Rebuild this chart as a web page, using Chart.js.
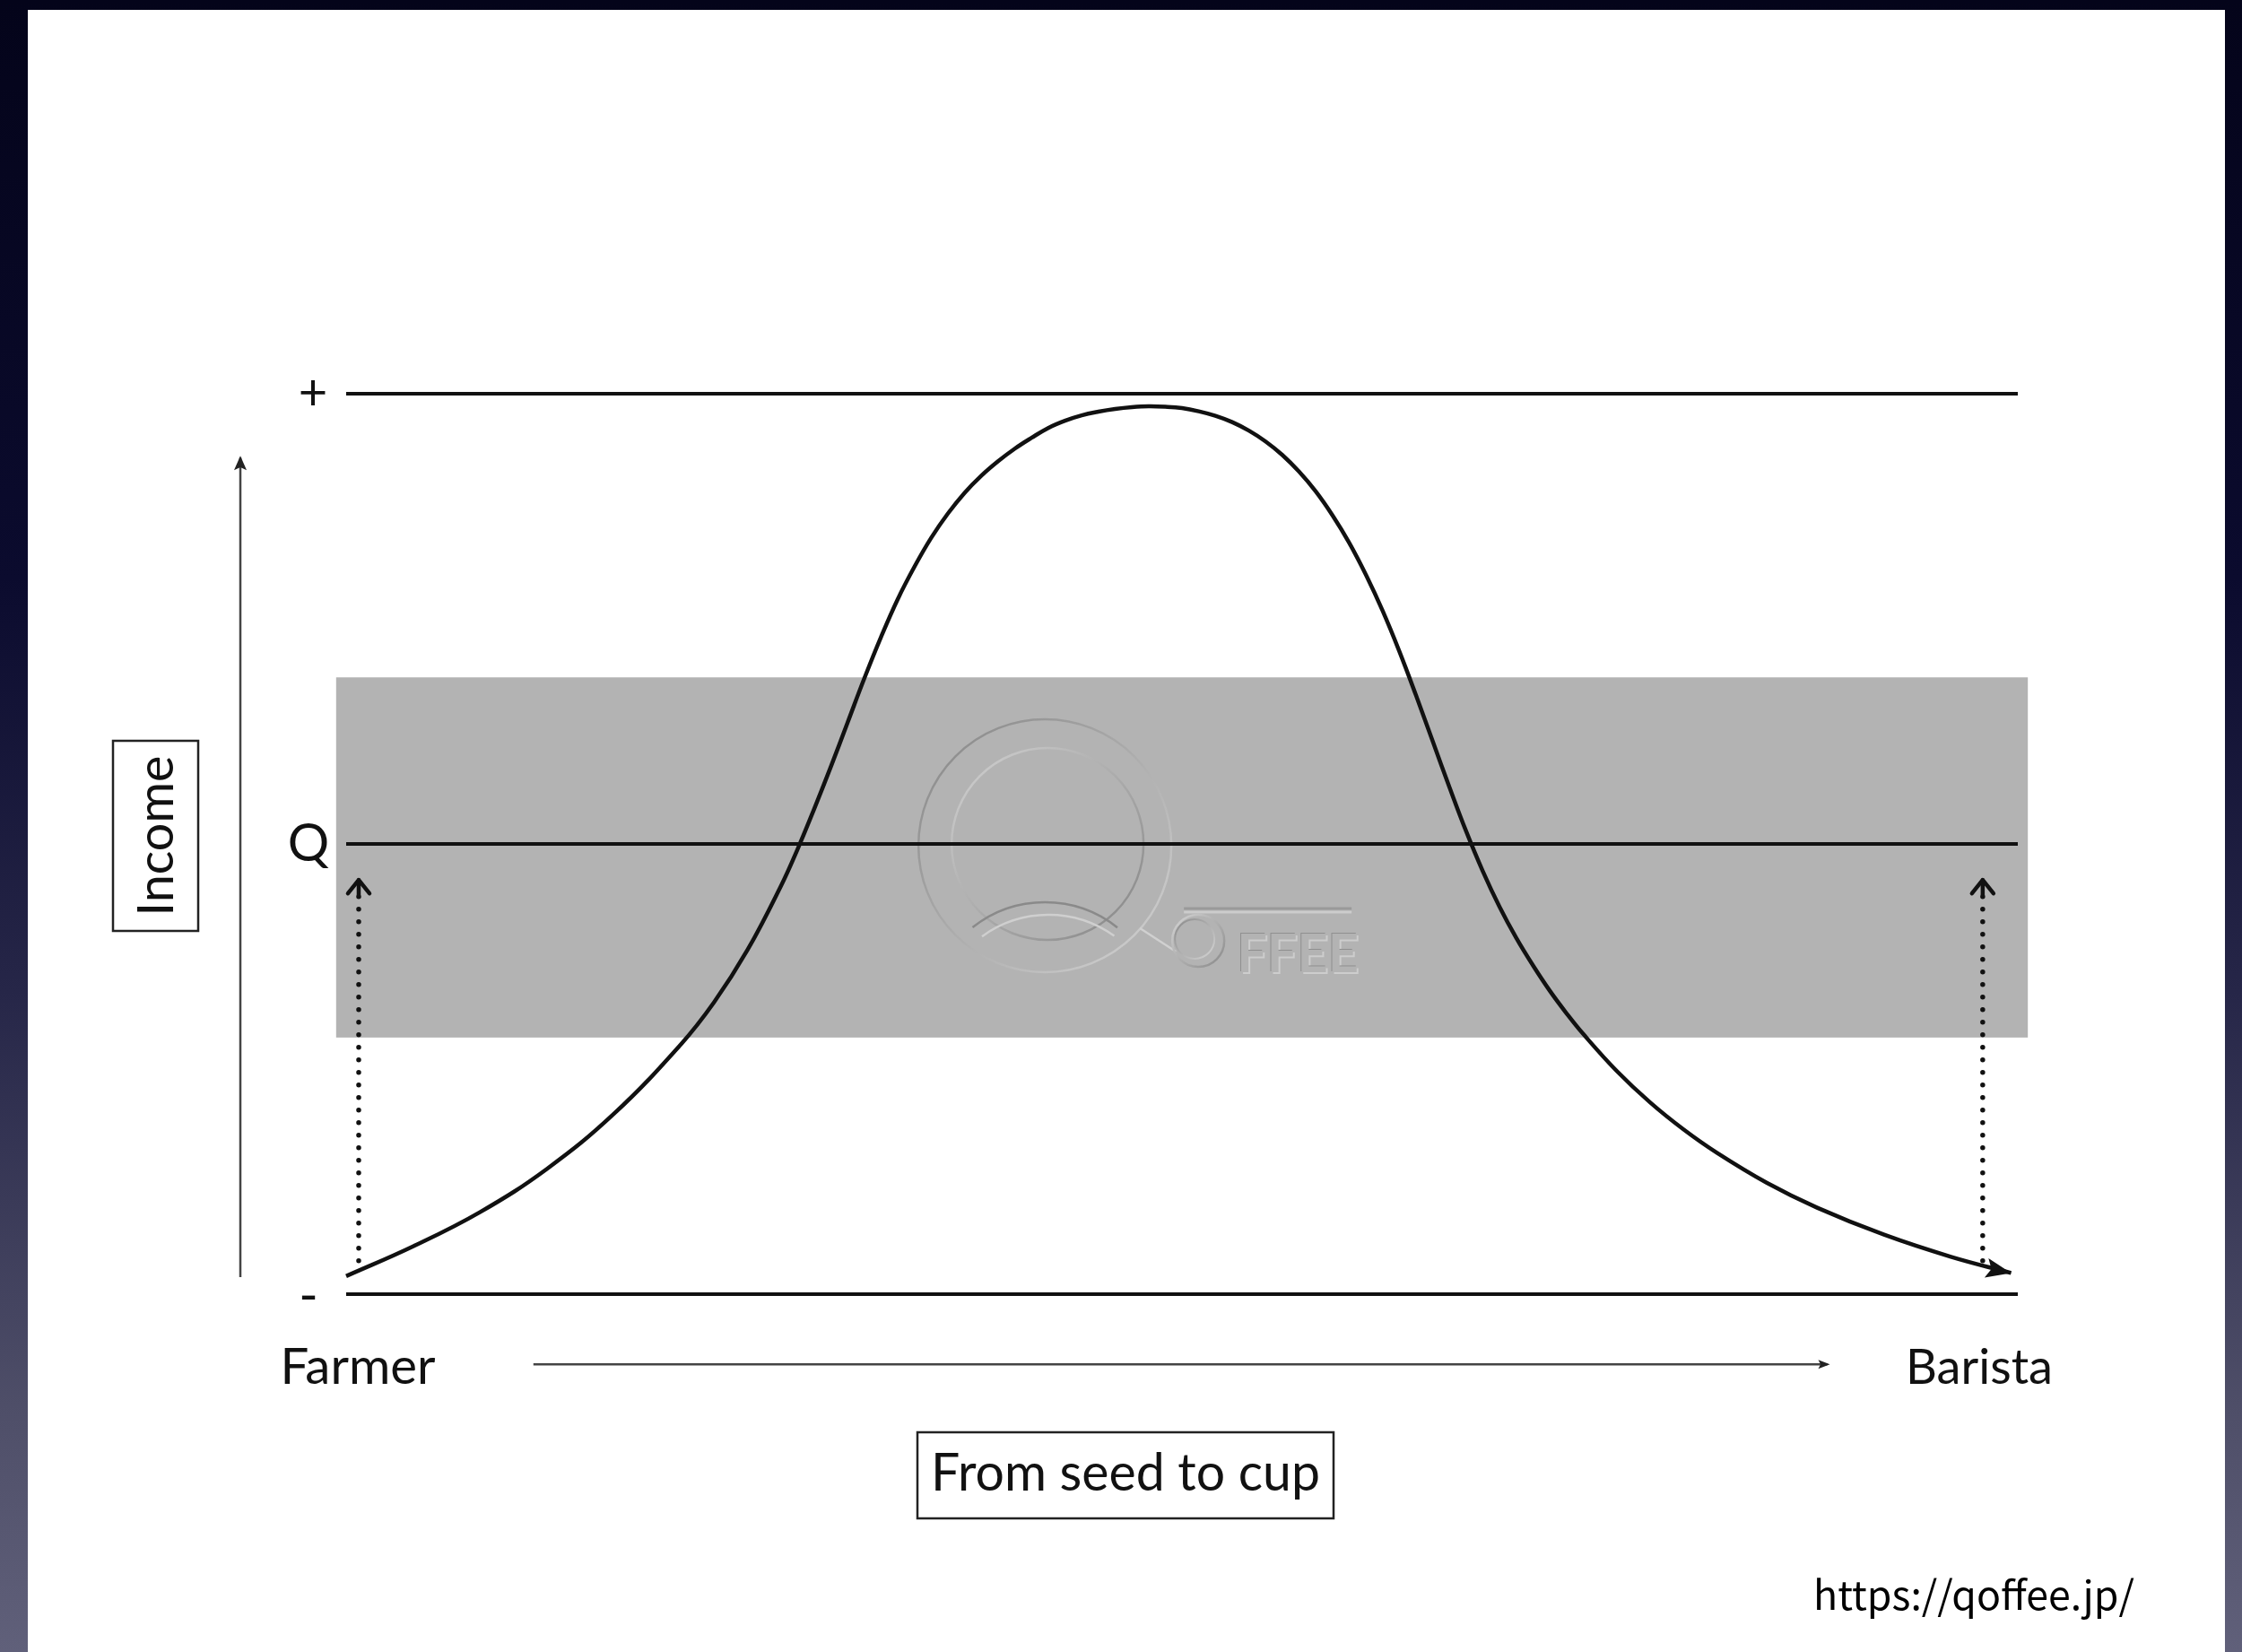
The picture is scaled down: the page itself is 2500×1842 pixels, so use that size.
<!DOCTYPE html>
<html>
<head>
<meta charset="utf-8">
<script src="https://cdn.jsdelivr.net/npm/chart.js@4.4.1/dist/chart.umd.min.js"></script>
<style>
  html, body { margin: 0; padding: 0; }
  body {
    width: 2500px; height: 1842px; overflow: hidden; position: relative;
    background: linear-gradient(to bottom, #04041a 0%, #0b0b2e 35%, #262648 60%, #4e4e68 85%, #60607a 100%);
  }
  #panel { position: absolute; left: 31px; top: 11px; width: 2450px; height: 1831px; background: #fff; }
  #chart { position: absolute; left: 0; top: 0; }
</style>
</head>
<body>
<div id="panel"></div>
<canvas id="chart" width="2500" height="1842"></canvas>
<script>
// income levels: "-" bottom, "Q" quality line, "+" top
const levelLabels = ['-', 'Q', '+'];
const levelValues = [0, 5, 10];
const levelSpan = [0, 100];

// grey band around Q
const bandX = [-0.6, 100.6];
const bandY = [2.85, 6.85];

// income along the chain
const curveX = [0, 4, 8, 12, 16, 20, 22, 24, 26, 27, 28, 29, 30, 31, 32, 33, 34, 35, 36, 37, 38, 39, 40,
                41, 42, 43, 44, 45, 46, 47, 48, 49, 50, 51, 52, 53, 54, 55, 56, 57, 58, 59, 60, 61, 62,
                63, 64, 65, 66, 67, 68, 69, 70, 71, 72, 73, 74, 76, 78, 80, 82, 85, 88, 92, 96, 99.6];
const curveY = [0.20, 0.53, 0.91, 1.39, 2.00, 2.77, 3.24, 3.82, 4.53, 4.94, 5.39, 5.86, 6.35, 6.84, 7.30,
                7.72, 8.08, 8.40, 8.67, 8.90, 9.09, 9.25, 9.39, 9.51, 9.62, 9.70, 9.76, 9.80, 9.83, 9.85,
                9.86, 9.855, 9.84, 9.805, 9.755, 9.685, 9.59, 9.47, 9.32, 9.135, 8.915, 8.65, 8.345, 7.99,
                7.59, 7.14, 6.65, 6.14, 5.63, 5.14, 4.695, 4.30, 3.955, 3.65, 3.37, 3.12, 2.89, 2.48, 2.13,
                1.83, 1.57, 1.235, 0.96, 0.66, 0.415, 0.235];

// dotted arrows at both ends
const dottedX = [0.75, 97.9];
const dottedY = [0.37, 4.6];

// axis arrows
const incomeAxisX = -6.33;
const incomeAxisY = [0.19, 9.29];
const chainAxisY = -0.78;
const chainAxisX = [11.2, 88.6];

const endLabels = ['Farmer', 'Barista'];
const yTitle = 'Income';
const xTitle = 'From seed to cup';
const sourceText = 'https://qoffee.jp/';

// watermark position (data units)
const wmX = 41.8;
const wmY = 4.98;

const INK = '#111';
const FONT = 'Lato';

function seg(xs, ys) {
  return xs.map((x, i) => ({ x: x, y: ys[i] }));
}

const datasets = [];
levelValues.forEach(v => {
  datasets.push({
    data: seg(levelSpan, [v, v]),
    borderColor: INK, borderWidth: 4
  });
});
datasets.push({
  data: seg(curveX, curveY),
  borderColor: INK, borderWidth: 4.5,
  tension: 0.4
});
dottedX.forEach(x => {
  datasets.push({
    data: seg([x, x], [dottedY[0], dottedY[1] - 0.12]),
    borderColor: INK, borderWidth: 5.5,
    borderDash: [0, 14], borderCapStyle: 'round'
  });
});
datasets.push({
  data: seg([incomeAxisX, incomeAxisX], incomeAxisY),
  borderColor: '#444', borderWidth: 2.5
});
datasets.push({
  data: seg(chainAxisX, [chainAxisY, chainAxisY]),
  borderColor: '#444', borderWidth: 2.5
});
datasets.forEach(d => {
  d.showLine = true;
  d.pointRadius = 0;
  d.fill = false;
  d.clip = false;
});

function fitSize(ctx, text, weight, target) {
  ctx.font = weight + ' 100px ' + FONT;
  return 100 * target / ctx.measureText(text).width;
}

function triangle(ctx, tx, ty, angle, len, half, color) {
  ctx.save();
  ctx.translate(tx, ty);
  ctx.rotate(angle);
  ctx.fillStyle = color;
  ctx.beginPath();
  ctx.moveTo(0, 0);
  ctx.lineTo(-len, -half);
  ctx.lineTo(-len * 0.8, 0);
  ctx.lineTo(-len, half);
  ctx.closePath();
  ctx.fill();
  ctx.restore();
}

function ring(ctx, cx, cy, r, c1, c2, lw) {
  const g = ctx.createLinearGradient(cx - r, cy - r, cx + r, cy + r);
  g.addColorStop(0, c1);
  g.addColorStop(1, c2);
  ctx.strokeStyle = g;
  ctx.lineWidth = lw;
  ctx.beginPath();
  ctx.arc(cx, cy, r, 0, Math.PI * 2);
  ctx.stroke();
}

function watermark(ctx, cx, cy) {
  ctx.save();
  ring(ctx, cx, cy, 141, '#858585', '#d4d4d4', 2.5);
  ring(ctx, cx + 3, cy - 2, 107, '#d2d2d2', '#858585', 2.5);
  // lens at the bottom of the Q
  ctx.lineWidth = 2.5;
  ctx.strokeStyle = '#8a8a8a';
  ctx.beginPath();
  ctx.arc(cx, cy + 193, 130, -2.24, -0.9);
  ctx.stroke();
  ctx.strokeStyle = '#cfcfcf';
  ctx.beginPath();
  ctx.arc(cx + 4, cy + 203, 126, -2.2, -0.95);
  ctx.stroke();
  // tail and small O
  ctx.strokeStyle = '#d0d0d0';
  ctx.beginPath();
  ctx.moveTo(cx + 106, cy + 92);
  ctx.lineTo(cx + 146, cy + 118);
  ctx.stroke();
  ring(ctx, cx + 171, cy + 106, 29, '#d4d4d4', '#8a8a8a', 2.5);
  ring(ctx, cx + 167, cy + 104, 22, '#8a8a8a', '#d4d4d4', 2);
  // overline
  ctx.strokeStyle = '#9a9a9a';
  ctx.lineWidth = 3;
  ctx.beginPath();
  ctx.moveTo(cx + 155, cy + 70);
  ctx.lineTo(cx + 342, cy + 70);
  ctx.stroke();
  ctx.strokeStyle = '#cccccc';
  ctx.beginPath();
  ctx.moveTo(cx + 155, cy + 74);
  ctx.lineTo(cx + 342, cy + 74);
  ctx.stroke();
  // letters
  const size = fitSize(ctx, 'FFEE', 'bold', 136);
  ctx.font = 'bold ' + size + 'px ' + FONT;
  ctx.textAlign = 'left';
  ctx.textBaseline = 'alphabetic';
  ctx.fillStyle = '#cdcdcd';
  ctx.fillText('FFEE', cx + 216, cy + 143);
  ctx.fillStyle = '#8f8f8f';
  ctx.fillText('FFEE', cx + 213, cy + 140);
  ctx.fillStyle = '#b3b3b3';
  ctx.fillText('FFEE', cx + 214, cy + 141);
  ctx.restore();
}

const decor = {
  id: 'decor',
  beforeDatasetsDraw(chart) {
    const ctx = chart.ctx;
    const x = chart.scales.x, y = chart.scales.y;
    ctx.save();
    ctx.fillStyle = '#b3b3b3';
    const x0 = x.getPixelForValue(bandX[0]), x1 = x.getPixelForValue(bandX[1]);
    const y0 = y.getPixelForValue(bandY[1]), y1 = y.getPixelForValue(bandY[0]);
    ctx.fillRect(x0, y0, x1 - x0, y1 - y0);
    ctx.restore();
    watermark(ctx, x.getPixelForValue(wmX), y.getPixelForValue(wmY));
  },
  afterDatasetsDraw(chart) {
    const ctx = chart.ctx;
    const x = chart.scales.x, y = chart.scales.y;
    const px = v => x.getPixelForValue(v);
    const py = v => y.getPixelForValue(v);

    // arrow at end of curve
    const n = curveX.length;
    const ax = px(curveX[n - 1]), ay = py(curveY[n - 1]);
    const bx = px(curveX[n - 2]), by = py(curveY[n - 2]);
    triangle(ctx, ax, ay, Math.atan2(ay - by, ax - bx) - 0.06, 28, 11, INK);

    // axis arrow heads
    triangle(ctx, px(incomeAxisX), py(incomeAxisY[1]) - 2, -Math.PI / 2, 16, 7, '#222');
    triangle(ctx, px(chainAxisX[1]) + 3, py(chainAxisY), 0, 13, 5, '#222');

    // chevrons on dotted arrows
    ctx.save();
    ctx.strokeStyle = INK;
    ctx.lineWidth = 4.5;
    ctx.lineCap = 'round';
    ctx.lineJoin = 'round';
    dottedX.forEach(v => {
      const tx = px(v), ty = py(dottedY[1]);
      ctx.beginPath();
      ctx.moveTo(tx - 12, ty + 15);
      ctx.lineTo(tx, ty);
      ctx.lineTo(tx + 12, ty + 15);
      ctx.stroke();
      ctx.beginPath();
      ctx.moveTo(tx, ty);
      ctx.lineTo(tx, ty + 16);
      ctx.stroke();
    });
    ctx.restore();

    // texts
    ctx.save();
    ctx.fillStyle = INK;
    ctx.textAlign = 'center';
    ctx.textBaseline = 'middle';
    const lx = px(levelSpan[0]) - 42;
    levelLabels.forEach((t, i) => {
      ctx.font = (t === '+' ? 56 : 58) + 'px ' + FONT;
      ctx.fillText(t, lx + (t === '+' ? 5 : 0), py(levelValues[i]) + (t === '-' ? 2 : 0));
    });

    ctx.textBaseline = 'alphabetic';
    let s = fitSize(ctx, endLabels[0], 'normal', 173);
    ctx.font = s + 'px ' + FONT;
    ctx.fillText(endLabels[0], 399, 1543);
    s = fitSize(ctx, endLabels[1], 'normal', 164);
    ctx.font = s + 'px ' + FONT;
    ctx.fillText(endLabels[1], 2207, 1543);

    s = fitSize(ctx, xTitle, 'normal', 434);
    ctx.font = s + 'px ' + FONT;
    ctx.fillText(xTitle, 1255, 1662);
    ctx.strokeStyle = '#222';
    ctx.lineWidth = 2.5;
    ctx.strokeRect(1023, 1597, 464, 96);

    // rotated y title
    ctx.strokeRect(126, 826, 95, 212);
    ctx.save();
    ctx.translate(173.5, 932);
    ctx.rotate(-Math.PI / 2);
    s = fitSize(ctx, yTitle, 'normal', 179);
    ctx.font = s + 'px ' + FONT;
    ctx.textBaseline = 'middle';
    ctx.fillText(yTitle, 0, 2);
    ctx.restore();

    // source
    ctx.font = '100px "Noto Sans CJK JP"';
    s = 100 * 358 / ctx.measureText(sourceText).width;
    ctx.font = s + 'px "Noto Sans CJK JP"';
    ctx.fillStyle = '#000';
    ctx.fillText(sourceText, 2201, 1795);
    ctx.restore();
  }
};

new Chart(document.getElementById('chart'), {
  type: 'scatter',
  data: { datasets: datasets },
  options: {
    responsive: false,
    animation: false,
    devicePixelRatio: 1,
    layout: { padding: { left: 386, right: 250, top: 338.6, bottom: 298.6 } },
    plugins: { legend: { display: false }, tooltip: { enabled: false } },
    scales: {
      x: { type: 'linear', min: 0, max: 100, display: false },
      y: { type: 'linear', min: -1, max: 11, display: false }
    }
  },
  plugins: [decor]
});
</script>
</body>
</html>
